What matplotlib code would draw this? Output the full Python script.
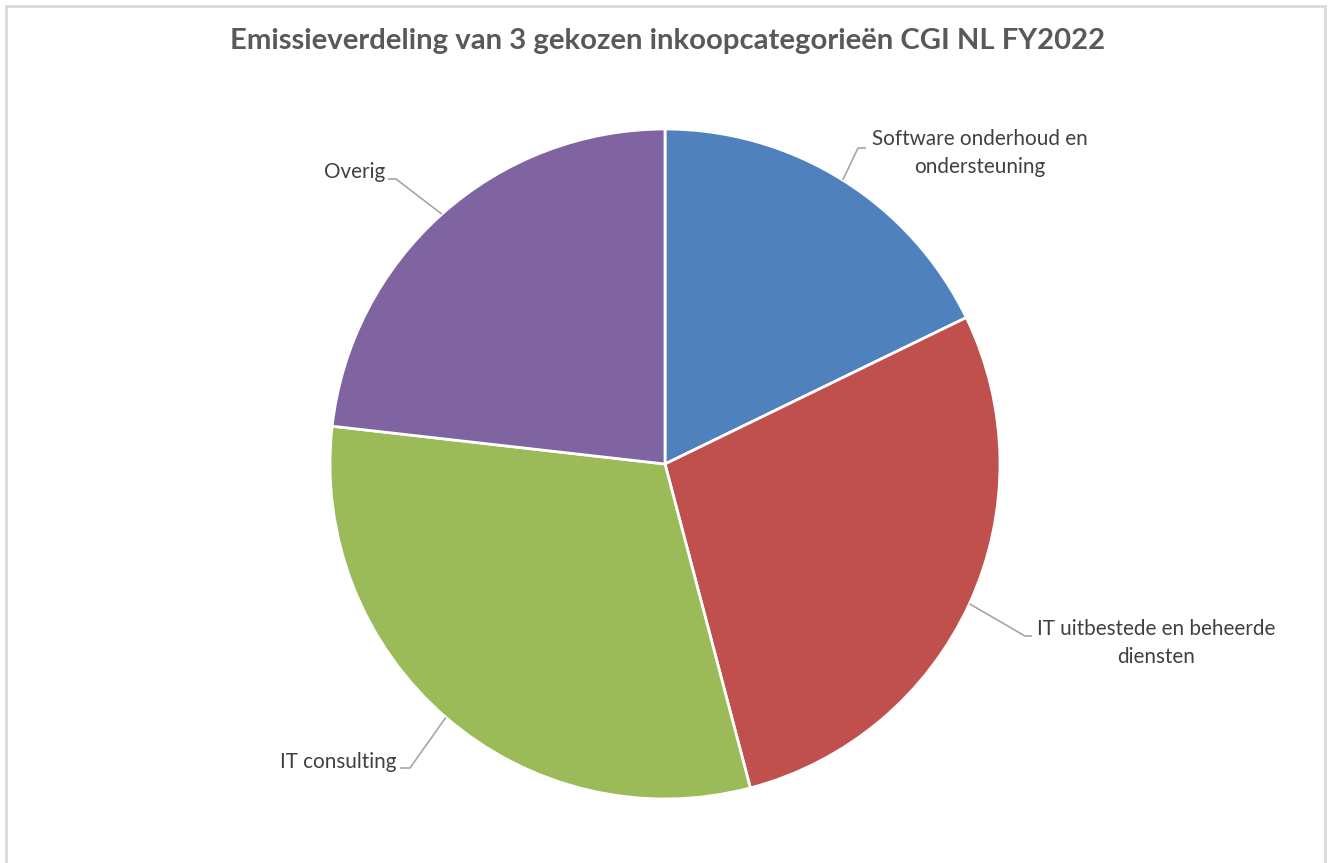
import numpy as np
import matplotlib.pyplot as plt
from matplotlib.patches import Rectangle

# Share of emissions per purchase category
categories = ['Software onderhoud en\nondersteuning',
              'IT uitbestede en beheerde\ndiensten',
              'IT consulting',
              'Overig']
shares = [17.8, 28.1, 30.9, 23.2]
colors = ['#4F81BD', '#C0504D', '#9BBB59', '#8064A2']
title = 'Emissieverdeling van 3 gekozen inkoopcategorieën CGI NL FY2022'

W, H = 1328, 863
fig = plt.figure(figsize=(W / 100, H / 100), dpi=100)
ax = fig.add_axes([0, 0, 1, 1])
ax.set_xlim(0, W)
ax.set_ylim(0, H)
ax.set_aspect('equal')
ax.axis('off')

# light frame like the Excel chart area
ax.add_patch(Rectangle((6, -10), 1319, H - 6 + 10, fill=False,
                       edgecolor='#D9D9D9', linewidth=2))

cx, cy, r = 665, H - 464, 335
wedges, _ = ax.pie(shares, colors=colors, startangle=90, counterclock=False,
                   center=(cx, cy), radius=r, frame=True,
                   wedgeprops=dict(edgecolor='white', linewidth=2))
ax.set_xlim(0, W)
ax.set_ylim(0, H)
ax.axis('off')

# label layout in pixel coordinates (x, y from top): elbow, line end, text pos, alignment
layout = [
    ((858, 148), (866, 148), (980, 153), 'center'),
    ((1025, 636), (1032, 636), (1156, 643), 'center'),
    ((410, 768), (400, 768), (397, 762), 'right'),
    ((396, 179), (388, 179), (385, 172), 'right'),
]

for w, lab, (elb, end, txt, ha) in zip(wedges, categories, layout):
    mid = np.deg2rad((w.theta1 + w.theta2) / 2)
    px, py = cx + r * np.cos(mid), cy + r * np.sin(mid)
    ax.plot([px, elb[0], end[0]], [py, H - elb[1], H - end[1]],
            color='#A6A6A6', linewidth=1.2, solid_capstyle='butt')
    ax.text(txt[0], H - txt[1], lab, ha=ha, va='center', fontsize=14.9,
            family='Lato', color='#404040', linespacing=1.5,
            multialignment='center')

ax.text(668, H - 41, title, ha='center', va='center', fontsize=21.1,
        family='Lato', fontweight='bold', color='#595959')

fig.savefig('out.png', dpi=100, facecolor='white')
